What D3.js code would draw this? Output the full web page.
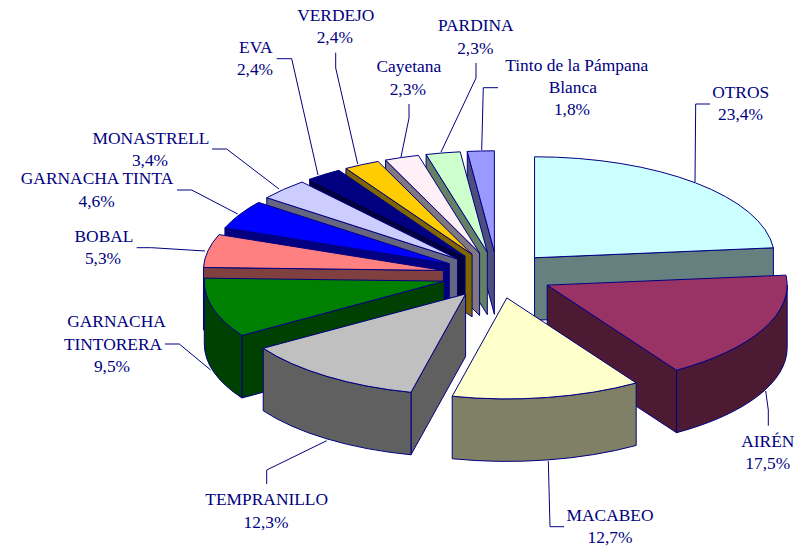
<!DOCTYPE html>
<html>
<head>
<meta charset="utf-8">
<script src="https://cdn.jsdelivr.net/npm/d3@7"></script>
<style>html,body{margin:0;padding:0;background:#fff}svg{display:block}</style>
</head>
<body>
<svg id="chart" width="805" height="551"></svg>
<script>
// Data
const categories = ["OTROS","AIRÉN","MACABEO","TEMPRANILLO","GARNACHA TINTORERA","BOBAL","GARNACHA TINTA","MONASTRELL","EVA","VERDEJO","Cayetana","PARDINA","Tinto de la Pámpana Blanca"];
const shares = [23.4,17.5,12.7,12.3,9.5,5.3,4.6,3.4,2.4,2.4,2.3,2.3,1.8];
const shareLabels = ["23,4%","17,5%","12,7%","12,3%","9,5%","5,3%","4,6%","3,4%","2,4%","2,4%","2,3%","2,3%","1,8%"];
const topColors = ["#CCFFFF","#993366","#FFFFCC","#C0C0C0","#008000","#FF8080","#0000FF","#CCCCFF","#000080","#FFCC00","#FFF0F8","#CCFFCC","#9999FF"];
const sideColors = ["#668080","#4D1A33","#808066","#606060","#004000","#804040","#000080","#666680","#000040","#806600","#807880","#668066","#4D4D80"];

// Label layout: [text, centre x, baseline y] per slice
const labelLines = [
  [["OTROS",740.7,98],["23,4%",740.5,120]],
  [["AIRÉN",767.8,447],["17,5%",767.7,469]],
  [["MACABEO",610,521],["12,7%",610,543]],
  [["TEMPRANILLO",266.7,505],["12,3%",266,528]],
  [["GARNACHA",116.5,326.7],["TINTORERA",113,350],["9,5%",112,372]],
  [["BOBAL",104,241.7],["5,3%",103,264]],
  [["GARNACHA TINTA",97,184],["4,6%",96.7,207]],
  [["MONASTRELL",151,144],["3,4%",150,166]],
  [["EVA",255.8,53],["2,4%",255,75]],
  [["VERDEJO",335.8,21],["2,4%",334.8,43]],
  [["Cayetana",408.8,72],["2,3%",407.8,94.7]],
  [["PARDINA",475.8,31],["2,3%",475.3,54]],
  [["Tinto de la Pámpana",576.7,71],["Blanca",572.8,93],["1,8%",572,115]]
];
// Leader line layout per slice
const leaders = [
  [[695,182],[695.7,104],[710,104]],
  [[765.7,391],[768.3,410],[768.3,425.7]],
  [[548.3,461],[550,526.7],[564,526.7]],
  [[326.7,440.7],[266.7,470],[266.7,484]],
  [[210.7,370],[179.3,344],[165,344]],
  [[205,251],[151.7,247.7],[136.7,247.7]],
  [[237.7,214],[191.7,190],[177,190]],
  [[279,189],[226.7,149],[212,149]],
  [[318,175],[291.7,58.7],[276.7,58.7]],
  [[357.7,164],[335.7,68],[335.7,52.7]],
  [[401,157],[409,118],[409,104]],
  [[441,152],[476,78],[476,63]],
  [[481.7,150],[483.3,87.7],[498,87.7]]
];

// Geometry of the tilted pie
const cx = 497.5, cy = 275, rx = 240, ry = 101, depth = 62.5, explode = 0.23;
const NAVY = "#000080";
const svg = d3.select("#chart");

const pie = d3.pie().sort(null).startAngle(0).endAngle(2*Math.PI);
const arcs = pie(shares).map((d,i)=>{
  const mid = (d.startAngle+d.endAngle)/2;
  return {i, a0:d.startAngle, a1:d.endAngle, mid,
    ax: cx + explode*rx*Math.sin(mid),
    ay: cy - explode*ry*Math.cos(mid)};
});

const pt = (s,a,dy=0)=>[s.ax+rx*Math.sin(a), s.ay-ry*Math.cos(a)+dy];
const line = d3.line();

// Leaders go under the pie
svg.append("g").selectAll("path").data(leaders).join("path")
  .attr("d", d=>line(d)).attr("fill","none").attr("stroke",NAVY).attr("stroke-width",1);

// Back to front
const order = arcs.slice().sort((a,b)=>d3.descending(Math.cos(a.mid),Math.cos(b.mid)));
const g = svg.append("g").attr("stroke",NAVY).attr("stroke-width",1).attr("stroke-linejoin","round");

function wallPath(s,a){
  const p = pt(s,a);
  return line([[s.ax,s.ay],p,[p[0],p[1]+depth],[s.ax,s.ay+depth]])+"Z";
}
function rimPath(s,a0,a1){
  const p0=pt(s,a0), p1=pt(s,a1), q1=pt(s,a1,depth), q0=pt(s,a0,depth);
  return `M${p0}A${rx} ${ry} 0 0 1 ${p1}L${q1}A${rx} ${ry} 0 0 0 ${q0}Z`;
}
function topPath(s){
  const p0=pt(s,s.a0), p1=pt(s,s.a1);
  return `M${s.ax},${s.ay}L${p0}A${rx} ${ry} 0 0 1 ${p1}Z`;
}

order.forEach(s=>{
  const side = sideColors[s.i];
  if (Math.sin(s.a0) < 0) g.append("path").attr("d",wallPath(s,s.a0)).attr("fill",side);
  if (Math.sin(s.a1) > 0) g.append("path").attr("d",wallPath(s,s.a1)).attr("fill",side);
  const r0 = Math.max(s.a0,Math.PI/2), r1 = Math.min(s.a1,3*Math.PI/2);
  if (r1 > r0) g.append("path").attr("d",rimPath(s,r0,r1)).attr("fill",side);
  g.append("path").attr("d",topPath(s)).attr("fill",topColors[s.i]);
});

// Labels
svg.append("g").attr("font-family","'Liberation Serif','Times New Roman',serif")
  .attr("font-size",17.4).attr("fill",NAVY).attr("text-anchor","middle")
  .selectAll("text").data(labelLines.flat()).join("text")
  .attr("x",d=>d[1]).attr("y",d=>d[2]).text(d=>d[0]);
</script>
</body>
</html>
